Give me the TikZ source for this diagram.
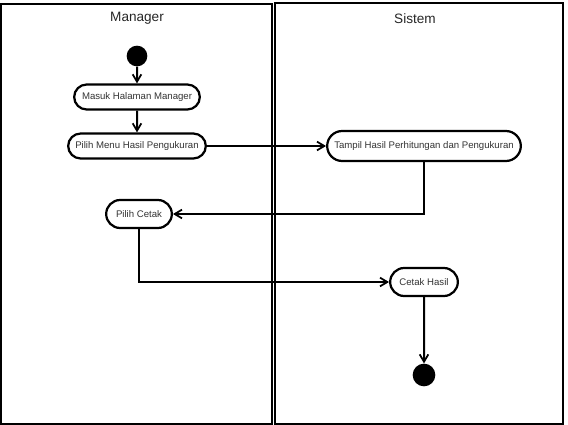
\documentclass[tikz,border=0pt]{standalone}
\usepackage{fontspec}
\setmainfont{Liberation Sans}
\usepackage{xcolor}
\usepackage{tikz}
\usetikzlibrary{shapes.misc, arrows.meta, positioning}
\tikzset{
    lanebox/.style={draw=black, line width=2pt},
    lanetitle/.style={font=\fontsize{11.6}{13}\selectfont, text=black!85},
    actbox/.style={rounded rectangle, draw=black, line width=1.9pt, fill=white,
        minimum height=0.75cm, inner xsep=1pt, text=black!80, font=\fontsize{8.2}{9}\selectfont},
    startdot/.style={circle, fill=black, minimum size=0.62cm, inner sep=0pt},
    flowarrow/.style={-{Straight Barb[length=2.2mm, width=2.6mm, line width=1.5pt]}, line width=1.7pt},
}

\begin{document}
\begin{tikzpicture}[x=0.03cm, y=-0.03cm]
    \useasboundingbox (0,0) rectangle (568,424);

    % swimlanes
    \draw[lanebox] (1,4) rectangle (272,424);
    \draw[lanebox] (275,3) rectangle (563,424);
    \node[lanetitle] (mgr) at (137,18.5) {Manager};
    \node[lanetitle] (sys) at (415,18.5) {Sistem};

    % manager
    \node[startdot] (start) at (137,56) {};
    \node[actbox, minimum width=3.84cm] (masuk) at (137,97) {Masuk Halaman Manager};
    \node[actbox, minimum width=4.2cm] (menu) at (137,146) {Pilih Menu Hasil Pengukuran};
    \node[actbox, minimum width=2.04cm, minimum height=0.84cm] (pilih) at (139,214) {Pilih Cetak};

    % sistem
    \node[actbox, minimum width=5.88cm, minimum height=0.9cm] (tampil) at (424,146) {Tampil Hasil Perhitungan dan Pengukuran};
    \node[actbox, minimum width=2.1cm, minimum height=0.84cm] (cetak) at (424,282) {Cetak Hasil};
    \node[startdot, minimum size=0.68cm] (stop) at (424,375) {};

    \draw[flowarrow] (start) -- (masuk);
    \draw[flowarrow] (masuk) -- (menu);
    \draw[flowarrow] (menu) -- (tampil);
    \draw[flowarrow] (tampil.south) |- (pilih.east);
    \draw[flowarrow] (pilih.south) |- (cetak.west);
    \draw[flowarrow] (cetak) -- (stop);
\end{tikzpicture}
\end{document}
